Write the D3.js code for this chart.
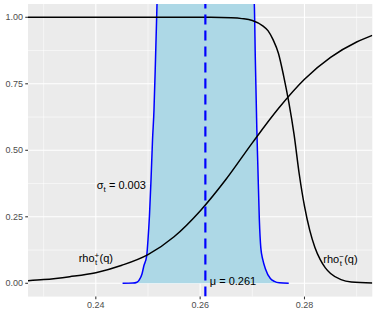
<!DOCTYPE html>
<html>
  <head>
    <meta charset="utf-8">
    <script src="https://d3js.org/d3.v7.min.js"></script>
    <style>
      body { margin: 0; background: #fff; }
      text { font-family: "Liberation Sans", Arial, Helvetica, sans-serif; white-space: pre; }
    </style>
  </head>
<body>
<script type="text/javascript">
  "use strict";

  // rho_t^+(q), rising curve
  var rhoPlusQ = [0.227, 0.230, 0.235, 0.240, 0.245, 0.250, 0.255, 0.260, 0.265, 0.270, 0.275, 0.280, 0.285, 0.290, 0.293];
  var rhoPlus  = [0.010, 0.014, 0.025, 0.040, 0.068, 0.108, 0.175, 0.272, 0.392, 0.528, 0.657, 0.767, 0.849, 0.907, 0.932];

  // rho_t^-(q), falling curve
  var rhoMinusQ = [0.227, 0.250, 0.262, 0.266, 0.268, 0.270, 0.272, 0.273, 0.274, 0.275, 0.276, 0.277, 0.278, 0.279, 0.280, 0.281, 0.282, 0.283, 0.284, 0.285, 0.287, 0.289, 0.293];
  var rhoMinus  = [1.000, 1.000, 0.9998, 0.998, 0.995, 0.988, 0.968, 0.950, 0.915, 0.865, 0.780, 0.680, 0.560, 0.410, 0.290, 0.200, 0.135, 0.090, 0.058, 0.037, 0.014, 0.005, 0.001];

  // density of the t distribution (goes far above the panel)
  var densQ = [0.24513, 0.24712, 0.24788, 0.24830, 0.24885, 0.24920, 0.24975, 0.25000, 0.25029, 0.25058, 0.25087, 0.25115, 0.25144, 0.25173, 0.25192, 0.2530, 0.2560, 0.2610,
               0.2660, 0.2690, 0.27019, 0.27038, 0.27058, 0.27087, 0.27106, 0.27135, 0.27163, 0.27202, 0.27250, 0.27346, 0.27423, 0.27519, 0.27698];
  var dens  = [0, 0.0008, 0.004, 0.012, 0.035, 0.065, 0.103, 0.163, 0.257, 0.388, 0.539, 0.651, 0.840, 1.050, 1.180, 3, 30, 130,
               30, 3, 1.09, 1.05, 0.84, 0.576, 0.441, 0.238, 0.133, 0.088, 0.055, 0.018, 0.0075, 0.002, 0];

  var mu = 0.261;
  var xTicks = [0.24, 0.26, 0.28];
  var yTicks = [0, 0.25, 0.5, 0.75, 1];
  var yTickLabels = ["0.00", "0.25", "0.50", "0.75", "1.00"];

  var width = 377, height = 314;
  var panel = {left: 28, right: 372.3, top: 4, bottom: 296.6};

  var svg = d3.select("body").append("svg")
      .attr("width", width)
      .attr("height", height);

  var x = d3.scaleLinear().domain([0.227, 0.293]).range([panel.left, panel.right]);
  var y = d3.scaleLinear().domain([-0.05, 1.05]).range([panel.bottom, panel.top]);

  // panel background
  svg.append("rect")
      .attr("x", panel.left).attr("y", panel.top)
      .attr("width", panel.right - panel.left)
      .attr("height", panel.bottom - panel.top)
      .attr("fill", "#EBEBEB");

  // minor grid sits halfway between the major ticks
  function minors(ticks, dom) {
    var step = ticks[1] - ticks[0], out = [];
    for (var v = ticks[0] - step / 2; v <= dom[1]; v += step) {
      if (v >= dom[0]) out.push(v);
    }
    return out;
  }

  var grid = svg.append("g");
  grid.selectAll("line.ymin").data(minors(yTicks, y.domain())).enter().append("line")
      .attr("x1", panel.left).attr("x2", panel.right)
      .attr("y1", function (d) { return y(d); }).attr("y2", function (d) { return y(d); })
      .attr("stroke", "#fff").attr("stroke-width", 0.55);
  grid.selectAll("line.xmin").data(minors(xTicks, x.domain())).enter().append("line")
      .attr("y1", panel.top).attr("y2", panel.bottom)
      .attr("x1", function (d) { return x(d); }).attr("x2", function (d) { return x(d); })
      .attr("stroke", "#fff").attr("stroke-width", 0.55);
  grid.selectAll("line.ymaj").data(yTicks).enter().append("line")
      .attr("x1", panel.left).attr("x2", panel.right)
      .attr("y1", function (d) { return y(d); }).attr("y2", function (d) { return y(d); })
      .attr("stroke", "#fff").attr("stroke-width", 1.1);
  grid.selectAll("line.xmaj").data(xTicks).enter().append("line")
      .attr("y1", panel.top).attr("y2", panel.bottom)
      .attr("x1", function (d) { return x(d); }).attr("x2", function (d) { return x(d); })
      .attr("stroke", "#fff").attr("stroke-width", 1.1);

  svg.append("clipPath").attr("id", "clip")
    .append("rect")
      .attr("x", panel.left).attr("y", panel.top)
      .attr("width", panel.right - panel.left)
      .attr("height", panel.bottom - panel.top);

  var plot = svg.append("g").attr("clip-path", "url(#clip)");

  var densData = densQ.map(function (q, i) { return {q: q, v: dens[i]}; });

  // shaded density
  plot.append("path")
      .datum(densData)
      .attr("fill", "#ADD8E6")
      .attr("d", d3.area()
        .curve(d3.curveMonotoneX)
        .x(function (d) { return x(d.q); })
        .y0(y(0))
        .y1(function (d) { return y(d.v); }));

  plot.append("path")
      .datum(densData)
      .attr("fill", "none")
      .attr("stroke", "#0000FF")
      .attr("stroke-width", 1.5)
      .attr("d", d3.line()
        .curve(d3.curveMonotoneX)
        .x(function (d) { return x(d.q); })
        .y(function (d) { return y(d.v); }));

  var line = d3.line()
      .curve(d3.curveMonotoneX)
      .x(function (d) { return x(d[0]); })
      .y(function (d) { return y(d[1]); });

  plot.append("path")
      .datum(d3.zip(rhoPlusQ, rhoPlus))
      .attr("fill", "none").attr("stroke", "#000").attr("stroke-width", 1.5)
      .attr("d", line);

  plot.append("path")
      .datum(d3.zip(rhoMinusQ, rhoMinus))
      .attr("fill", "none").attr("stroke", "#000").attr("stroke-width", 1.5)
      .attr("d", line);

  // mean, dashed vertical line
  plot.append("line")
      .attr("x1", x(mu)).attr("x2", x(mu))
      .attr("y1", panel.bottom).attr("y2", panel.top)
      .attr("stroke", "#0000FF")
      .attr("stroke-width", 2.2)
      .attr("stroke-dasharray", "10,6");

  // axes, drawn by hand in ggplot style
  var axes = svg.append("g");
  axes.selectAll("line.yt").data(yTicks).enter().append("line")
      .attr("x1", panel.left - 2.75).attr("x2", panel.left)
      .attr("y1", function (d) { return y(d); }).attr("y2", function (d) { return y(d); })
      .attr("stroke", "#333").attr("stroke-width", 1.07);
  axes.selectAll("text.yt").data(yTicks).enter().append("text")
      .attr("x", panel.left - 5)
      .attr("y", function (d) { return y(d); })
      .attr("dy", "0.35em")
      .attr("text-anchor", "end")
      .attr("fill", "#4D4D4D")
      .style("font-size", "9px")
      .text(function (d, i) { return yTickLabels[i]; });
  axes.selectAll("line.xt").data(xTicks).enter().append("line")
      .attr("y1", panel.bottom).attr("y2", panel.bottom + 2.75)
      .attr("x1", function (d) { return x(d); }).attr("x2", function (d) { return x(d); })
      .attr("stroke", "#333").attr("stroke-width", 1.07);
  axes.selectAll("text.xt").data(xTicks).enter().append("text")
      .attr("x", function (d) { return x(d); })
      .attr("y", panel.bottom + 11)
      .attr("text-anchor", "middle")
      .attr("fill", "#4D4D4D")
      .style("font-size", "9px")
      .text(function (d) { return d3.format(".2f")(d); });

  // annotations
  var notes = svg.append("g").style("font-size", "11px").attr("fill", "#000");

  var sig = notes.append("text")
      .attr("x", x(0.2449)).attr("y", y(0.37)).attr("dy", "0.35em")
      .attr("text-anchor", "middle");
  sig.append("tspan").text("σ");
  sig.append("tspan").attr("dy", 3).style("font-size", "8px").text("t");
  sig.append("tspan").attr("dy", -3).text(" = 0.003");

  notes.append("text")
      .attr("x", x(0.2663)).attr("y", y(0.007)).attr("dy", "0.35em")
      .attr("text-anchor", "middle")
      .text("μ = 0.261");

  function rhoLabel(q, v, sign) {
    var t = notes.append("text")
        .attr("x", x(q)).attr("y", y(v)).attr("dy", "0.35em")
        .attr("text-anchor", "middle");
    t.append("tspan").text("rho");
    t.append("tspan").attr("dy", -4).style("font-size", "8px").text(sign);
    t.append("tspan").attr("dx", -4.2).attr("dy", 7).style("font-size", "8px").text("t");
    t.append("tspan").attr("dx", 2.2).attr("dy", -3).text("(q)");
  }
  rhoLabel(0.2400, 0.094, "+");
  rhoLabel(0.2869, 0.090, "\u2212");
</script>
</body>
</html>
